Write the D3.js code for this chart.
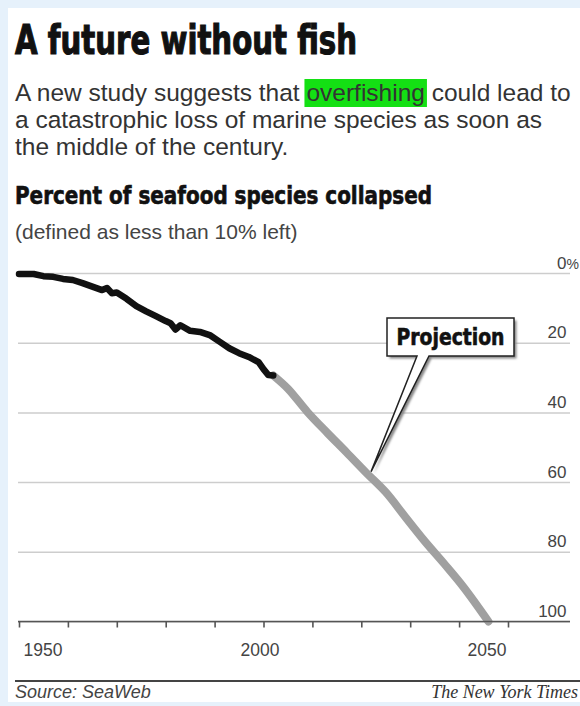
<!DOCTYPE html>
<html>
<head>
<meta charset="utf-8">
<script src="https://cdn.jsdelivr.net/npm/d3@7"></script>
<style>
  html, body { margin: 0; padding: 0; background: #e6f1fb; }
  svg { display: block; }
</style>
</head>
<body>
<svg id="chart" width="580" height="706"></svg>
<script>
// Observed share of seafood species collapsed (percent), by year
const obsYears = [1950, 1953, 1955, 1957, 1959, 1961, 1963, 1965, 1967, 1968, 1969, 1970, 1972, 1974, 1976, 1978, 1980, 1981, 1982, 1983, 1985, 1987, 1989, 1991, 1993, 1995, 1997, 1999, 2000, 2001, 2002];
const obsPct   = [0.3, 0.3, 0.9, 1.1, 1.7, 2.0, 2.9, 3.9, 4.9, 4.3, 5.8, 5.6, 7.4, 9.5, 11.0, 12.4, 13.8, 14.4, 16.2, 15.0, 16.6, 16.9, 17.8, 19.7, 21.6, 23.0, 24.1, 25.6, 27.6, 29.3, 29.4];

// Projected trend to total collapse
const projYears = [2002, 2005, 2009, 2013, 2017, 2021, 2025, 2029, 2033, 2037, 2041, 2046];
const projPct   = [29.4, 33.2, 39.9, 45.8, 51.5, 57.3, 62.9, 70.0, 77.0, 83.5, 90.3, 100];

// Axes
const xTickYears  = d3.range(1950, 2051, 10);
const xLabelYears = [1950, 2000, 2050];
const yTicks      = [0, 20, 40, 60, 80, 100];

// Annotation
const calloutText   = "Projection";
const calloutAnchor = [2022, 57];

// Text
const titleText    = "A future without fish";
const deckLines    = [
  ["A new study suggests that ", "overfishing", " could lead to"],
  ["a catastrophic loss of marine species as soon as"],
  ["the middle of the century."]
];
const chartTitle   = "Percent of seafood species collapsed";
const chartNote    = "(defined as less than 10% left)";
const sourceText   = "Source: SeaWeb";
const creditText   = "The New York Times";

const W = 580, H = 706;
const svg = d3.select("#chart");

const SANS   = "'Liberation Sans', Arial, Helvetica, sans-serif";
const NARROW = "'Liberation Sans Narrow', 'DejaVu Sans Condensed', 'Liberation Sans', sans-serif";

// Panel
svg.append("rect").attr("width", W).attr("height", H).attr("fill", "#e6f1fb");
svg.append("rect").attr("x", 8).attr("y", 8).attr("width", W - 8).attr("height", 694).attr("fill", "#ffffff");

// Shadow filter for the callout
const defs = svg.append("defs");
const f = defs.append("filter").attr("id", "soft").attr("x", "-20%").attr("y", "-20%").attr("width", "140%").attr("height", "140%");
f.append("feGaussianBlur").attr("stdDeviation", 1.2);

// Heading
svg.append("text")
  .attr("x", 15).attr("y", 54)
  .attr("font-family", NARROW).attr("font-weight", 700).attr("font-size", 40)
  .attr("fill", "#111").attr("stroke", "#111").attr("stroke-width", 1.1)
  .attr("textLength", 342).attr("lengthAdjust", "spacingAndGlyphs")
  .text(titleText);

// Deck with highlighted word
const deck = svg.append("g");
const deckY = [101, 128, 155];
deckLines.forEach((parts, i) => {
  const t = deck.append("text")
    .attr("x", 15).attr("y", deckY[i])
    .attr("font-family", SANS).attr("font-size", 24.5)
    .attr("fill", "#333");
  parts.forEach((p, j) => {
    t.append("tspan").attr("class", j === 1 ? "hl" : null).text(p);
  });
});
deck.selectAll("tspan.hl").each(function () {
  const b = this.getBBox();
  deck.insert("rect", ":first-child")
    .attr("x", b.x - 2).attr("y", deckY[0] - 22)
    .attr("width", b.width + 4).attr("height", 28)
    .attr("fill", "#14e014");
});

// Chart heading and note
svg.append("text")
  .attr("x", 15).attr("y", 204)
  .attr("font-family", NARROW).attr("font-weight", 700).attr("font-size", 24)
  .attr("fill", "#111").attr("stroke", "#111").attr("stroke-width", 0.6)
  .attr("textLength", 417).attr("lengthAdjust", "spacingAndGlyphs")
  .text(chartTitle);
svg.append("text")
  .attr("x", 15).attr("y", 239)
  .attr("font-family", SANS).attr("font-size", 21)
  .attr("fill", "#444")
  .text(chartNote);

// Scales
const x = d3.scaleLinear().domain([1950, 2050]).range([19, 508]);
const y = d3.scaleLinear().domain([0, 100]).range([273, 621.5]);
const gridLeft = 18, gridRight = 570;

// Gridlines + right-hand labels
const yAxis = d3.axisRight(y).tickValues(yTicks).tickSize(-(gridRight - gridLeft)).tickPadding(0);
const gy = svg.append("g").attr("transform", `translate(${gridRight},0)`).call(yAxis);
gy.select(".domain").remove();
gy.selectAll(".tick line").attr("stroke", "#cdcdcd").attr("stroke-width", 1.5);
gy.selectAll(".tick text")
  .attr("x", -3.5).attr("dy", null).attr("y", -5)
  .attr("text-anchor", "end")
  .attr("font-family", SANS).attr("font-size", 17).attr("fill", "#444");
gy.selectAll(".tick").filter(d => d === 0)
  .append("text")
  .attr("x", -3.5).attr("y", -5)
  .attr("text-anchor", "start")
  .attr("font-family", SANS).attr("font-size", 14).attr("fill", "#444")
  .text("%");

// Lines
const line = d3.line().x(d => x(d[0])).y(d => y(d[1]));
const projData = d3.zip(projYears, projPct);
const obsData  = d3.zip(obsYears, obsPct);

svg.append("path")
  .datum(projData)
  .attr("d", line.curve(d3.curveCatmullRom.alpha(0.5)))
  .attr("fill", "none")
  .attr("stroke", "#a0a0a0").attr("stroke-width", 8)
  .attr("stroke-linecap", "round").attr("stroke-linejoin", "round");

// X axis
const xAxis = d3.axisBottom(x)
  .tickValues(xTickYears)
  .tickSize(6)
  .tickFormat(d => xLabelYears.includes(d) ? String(d) : "");
const gx = svg.append("g").attr("transform", `translate(0,${y(100)})`).call(xAxis);
gx.select(".domain").remove();
gx.insert("line", ":first-child")
  .attr("x1", gridLeft).attr("x2", gridRight)
  .attr("stroke", "#555").attr("stroke-width", 1.6);
gx.selectAll(".tick line").attr("stroke", "#555").attr("stroke-width", 1.6);
gx.selectAll(".tick text")
  .attr("dy", null).attr("y", 34)
  .attr("font-family", SANS).attr("font-size", 17.5).attr("fill", "#444")
  .attr("text-anchor", d => d === 1950 ? "start" : d === 2050 ? "end" : "middle")
  .attr("x", d => d === 1950 ? 4 : d === 2050 ? -2 : -4);

// Observed series on top
svg.append("path")
  .datum(obsData)
  .attr("d", line.curve(d3.curveLinear))
  .attr("fill", "none")
  .attr("stroke", "#111").attr("stroke-width", 6.5)
  .attr("stroke-linecap", "round").attr("stroke-linejoin", "round");

// Callout
const tip = [x(calloutAnchor[0]), y(calloutAnchor[1])];
const bx = 387, by = 318, bw = 127, bh = 38, w1 = 417, w2 = 429;
const callPath = `M${bx},${by}H${bx + bw}V${by + bh}H${w2}L${tip[0]},${tip[1]}L${w1},${by + bh}H${bx}Z`;
const callout = svg.append("g");
callout.append("path").attr("d", callPath)
  .attr("transform", "translate(2.5,2.5)")
  .attr("fill", "#888").attr("filter", "url(#soft)");
callout.append("path").attr("d", callPath)
  .attr("fill", "#fff").attr("stroke", "#222").attr("stroke-width", 1.5)
  .attr("stroke-linejoin", "miter");
callout.append("text")
  .attr("x", bx + bw / 2).attr("y", by + 27)
  .attr("text-anchor", "middle")
  .attr("font-family", NARROW).attr("font-weight", 700).attr("font-size", 23)
  .attr("fill", "#111").attr("stroke", "#111").attr("stroke-width", 0.6)
  .attr("textLength", 108).attr("lengthAdjust", "spacingAndGlyphs")
  .text(calloutText);

// Footer
svg.append("line")
  .attr("x1", 15).attr("x2", W).attr("y1", 681).attr("y2", 681)
  .attr("stroke", "#444").attr("stroke-width", 2);
svg.append("text")
  .attr("x", 15).attr("y", 698)
  .attr("font-family", SANS).attr("font-style", "italic").attr("font-size", 18)
  .attr("fill", "#444")
  .text(sourceText);
svg.append("text")
  .attr("x", 578).attr("y", 698)
  .attr("text-anchor", "end")
  .attr("font-family", "'Liberation Serif', 'Times New Roman', serif").attr("font-style", "italic").attr("font-size", 18)
  .attr("fill", "#333")
  .text(creditText);
</script>
</body>
</html>
